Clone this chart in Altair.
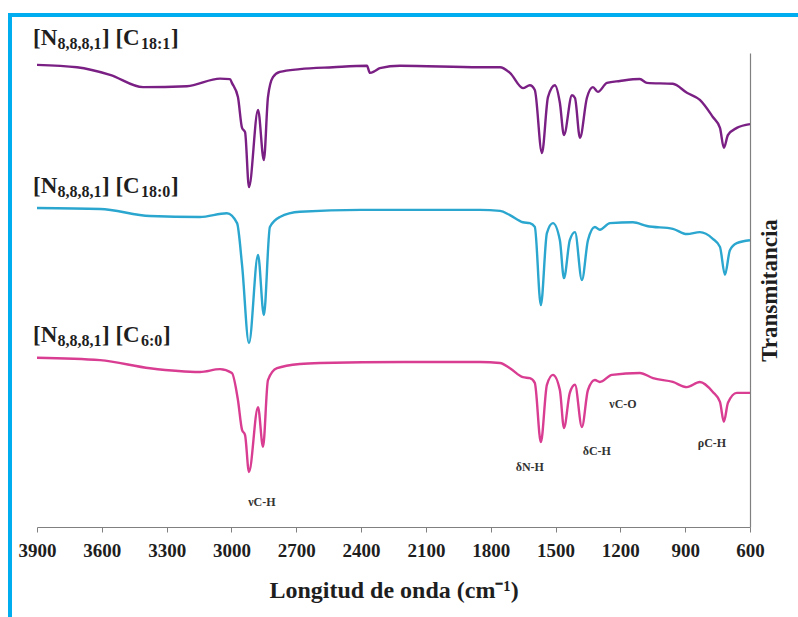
import altair as alt
import pandas as pd

# ---------------- data ----------------
SERIES = ["C18:1", "C18:0", "C6:0"]
COLORS = ["#7a1f83", "#2aa6cf", "#d83d92"]

wn_c181 = [3900, 3715, 3562, 3409, 3206, 3053, 3007, 2998, 2970, 2951, 2937, 2919,
           2877, 2850, 2831, 2808, 2776, 2683, 2530, 2373, 2359, 2336, 2313, 2220,
           1850, 1757, 1711, 1651, 1619, 1596, 1563, 1535, 1503, 1480, 1461, 1424,
           1410, 1387, 1355, 1327, 1304, 1262, 1202, 1110, 1077, 957, 892, 832,
           772, 739, 721, 702, 661, 600]
t_c181 = [97.5, 97.0, 95.4, 92.8, 93.0, 94.6, 94.5, 93.7, 90.7, 84.2, 83.3, 71.7,
          88.0, 77.4, 90.7, 94.9, 96.0, 96.6, 97.0, 97.3, 95.8, 96.2, 96.8, 97.3,
          97.0, 97.0, 95.8, 92.6, 93.2, 92.2, 78.9, 90.7, 93.2, 89.5, 82.7, 91.1,
          90.5, 82.1, 90.5, 92.8, 91.8, 93.7, 94.1, 94.5, 93.7, 93.5, 91.6, 90.1,
          86.5, 84.2, 80.0, 82.7, 84.2, 85.0]

wn_c180 = [3900, 3608, 3377, 3146, 3021, 2974, 2951, 2919, 2877, 2850, 2822, 2776,
           2683, 2400, 2000, 1850, 1757, 1711, 1651, 1619, 1596, 1568, 1540, 1512,
           1480, 1461, 1434, 1410, 1378, 1350, 1318, 1295, 1248, 1142, 1077, 957,
           892, 832, 772, 739, 716, 693, 661, 600]
t_c180 = [67.3, 67.1, 65.6, 65.4, 66.2, 64.1, 55.3, 38.8, 57.4, 44.7, 63.3, 65.4,
          66.5, 66.9, 66.9, 66.9, 66.7, 65.8, 64.3, 64.1, 63.3, 46.8, 62.0, 64.1,
          60.5, 52.5, 60.5, 62.2, 52.1, 60.5, 63.3, 62.7, 64.1, 64.3, 63.5, 62.9,
          61.8, 62.2, 60.8, 59.1, 53.2, 58.4, 59.9, 60.5]

wn_c60 = [3900, 3608, 3377, 3146, 3053, 2998, 2970, 2951, 2937, 2919, 2877, 2854,
          2831, 2789, 2683, 2590, 2200, 1850, 1757, 1711, 1651, 1619, 1596, 1568,
          1540, 1512, 1480, 1461, 1434, 1410, 1378, 1350, 1318, 1295, 1239, 1110,
          1049, 957, 892, 832, 772, 739, 721, 702, 661, 600]
t_c60 = [35.7, 35.2, 33.5, 32.7, 33.3, 32.5, 26.8, 20.5, 19.4, 11.6, 25.3, 16.9,
         31.0, 33.5, 34.4, 34.6, 34.8, 34.8, 34.6, 33.5, 31.6, 31.4, 30.4, 17.9,
         30.0, 32.1, 28.9, 20.9, 28.3, 30.0, 21.1, 28.9, 31.0, 30.6, 32.1, 32.5,
         31.4, 30.6, 29.5, 30.6, 28.5, 26.4, 22.2, 26.2, 28.3, 28.3]

X_TICKS = [3900, 3600, 3300, 3000, 2700, 2400, 2100, 1800, 1500, 1200, 900, 600]

# series labels (left anchored at 3900 cm-1)
label_series = ["C18:1", "C18:0", "C6:0"]
label_t = [101.7, 70.5, 39.0]
label_sub2 = ["18:1", "18:0", "6:0"]

# band annotations
ann_text = ["νC-H", "δN-H", "δC-H", "νC-O", "ρC-H"]
ann_wn = [2859, 1619, 1309, 1188, 776]
ann_t = [5.3, 12.7, 16.0, 25.9, 17.7]

# ---------------- tables ----------------
df = pd.concat([
    pd.DataFrame({"series": "C18:1", "wn": wn_c181, "t": t_c181}),
    pd.DataFrame({"series": "C18:0", "wn": wn_c180, "t": t_c180}),
    pd.DataFrame({"series": "C6:0", "wn": wn_c60, "t": t_c60}),
], ignore_index=True)

lab = pd.DataFrame({"series": label_series, "wn": [3900] * 3, "t": label_t,
                    "sub2": label_sub2})
ann = pd.DataFrame({"txt": ann_text, "wn": ann_wn, "t": ann_t})

FONT = "Liberation Serif"
TXT = "#1e1e1e"

X = alt.X("wn:Q",
          scale=alt.Scale(domain=[3900, 600], nice=False, zero=False),
          axis=alt.Axis(values=X_TICKS, format="d", grid=False,
                        title="Longitud de onda (cm⁻¹)",
                        domainColor="#808080", domainWidth=1.2,
                        tickColor="#808080", tickSize=5,
                        labelFont=FONT, labelFontSize=19, labelFontWeight="bold",
                        labelColor=TXT, labelPadding=9, labelFlush=False,
                        titleFont=FONT, titleFontSize=24, titleFontWeight="bold",
                        titleColor=TXT, titlePadding=18))
Y = alt.Y("t:Q",
          scale=alt.Scale(domain=[0, 100], nice=False, zero=False),
          axis=alt.Axis(orient="right", labels=False, ticks=False, grid=False,
                        domainColor="#808080", domainWidth=1.2,
                        title="Transmitancia", titleAngle=270,
                        titleFont=FONT, titleFontSize=23, titleFontWeight="bold",
                        titleColor=TXT, titlePadding=31))

lines = alt.Chart(df).mark_line(strokeWidth=2.4, interpolate="monotone").encode(
    x=X, y=Y,
    color=alt.Color("series:N", scale=alt.Scale(domain=SERIES, range=COLORS),
                    legend=None),
    detail="series:N",
)

def txt(data, text, dx, size, dy=0, align="left", baseline="alphabetic"):
    return alt.Chart(data).mark_text(
        font=FONT, fontWeight="bold", fontSize=size, color=TXT,
        align=align, baseline=baseline, dx=dx, dy=dy
    ).encode(x=X, y=Y, text=text)

big1 = txt(lab, alt.value("[N"), -4, 23)
sub1 = txt(lab, alt.value("8,8,8,1"), 20.5, 16, dy=4)
big2 = txt(lab, alt.value("] [C"), 65, 23)
sub2 = txt(lab, "sub2:N", 104, 16, dy=4)
end18 = txt(lab[lab["series"] != "C6:0"], alt.value("]"), 134, 23)
end6 = txt(lab[lab["series"] == "C6:0"], alt.value("]"), 126, 23)

annot = alt.Chart(ann).mark_text(
    font=FONT, fontWeight="bold", fontSize=12, color="#333333",
    align="center", baseline="middle"
).encode(x=X, y=Y, text="txt:N")

# decorative cyan frame (top and left edges)
one = pd.DataFrame({"k": [0]})
frame_top = alt.Chart(one).mark_rule(color="#00aeef", strokeWidth=4).encode(
    x=alt.value(-29), x2=alt.value(770), y=alt.value(-38))
frame_left = alt.Chart(one).mark_rule(color="#00aeef", strokeWidth=4).encode(
    x=alt.value(-27), y=alt.value(-40), y2=alt.value(570))

chart = alt.layer(lines, big1, sub1, big2, sub2, end18, end6, annot,
                  frame_top, frame_left).properties(
    width=713, height=474,
    padding={"left": 37, "top": 53, "right": 48, "bottom": 90},
    autosize=alt.AutoSizeParams(type="none"),
    background="white",
).configure_view(stroke=None)

chart.save("out.html", embed_options={"renderer": "svg", "actions": False})
